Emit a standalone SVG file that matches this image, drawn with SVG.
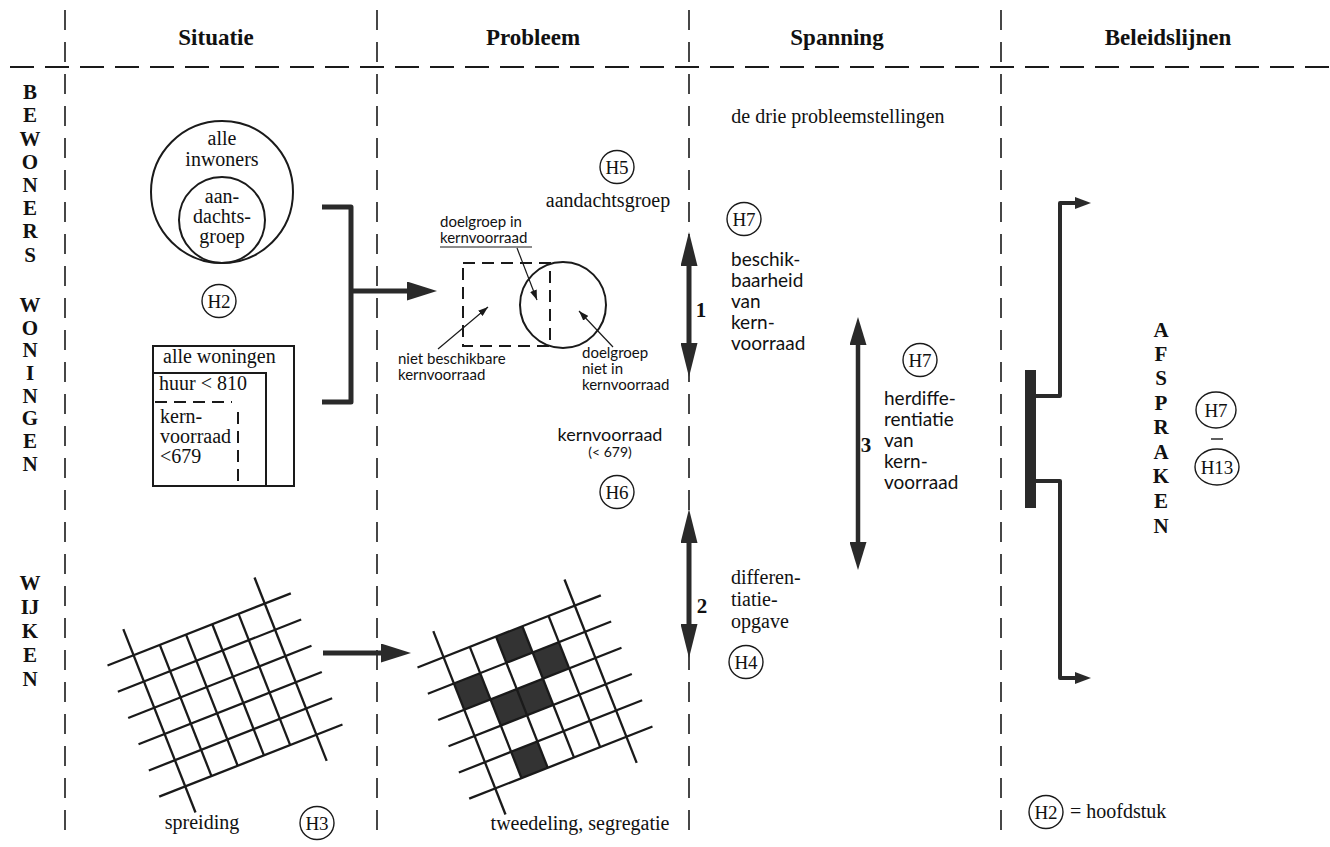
<svg xmlns="http://www.w3.org/2000/svg" xmlns:xlink="http://www.w3.org/1999/xlink" width="1330" height="847" viewBox="0 0 1330 847">
<style>
.bg{fill:#ffffff}
.vdash{stroke:#1a1a1a;stroke-width:1.6;stroke-dasharray:20 12;fill:none}
.hdash{stroke:#1a1a1a;stroke-width:2.2;stroke-dasharray:24 11;fill:none}
.hdr{font-family:"Liberation Serif","Times New Roman",serif;font-weight:bold;font-size:23px;fill:#111;text-anchor:middle}
.let{font-family:"Liberation Serif","Times New Roman",serif;font-weight:bold;font-size:21px;fill:#111;text-anchor:middle}
.t{font-family:"Liberation Serif","Times New Roman",serif;font-size:20px;fill:#111}
.tc{font-family:"Liberation Serif","Times New Roman",serif;font-size:20px;fill:#111;text-anchor:middle}
.o{font-family:"Lato","Open Sans",sans-serif;font-size:19px;fill:#111}
.oc{font-family:"Lato","Open Sans",sans-serif;font-size:18px;fill:#111;text-anchor:middle}
.os{font-family:"Lato","Open Sans",sans-serif;font-size:15px;fill:#111}
.num{font-family:"Liberation Serif","Times New Roman",serif;font-weight:bold;font-size:21px;fill:#111;text-anchor:middle}
.hc{fill:none;stroke:#1a1a1a;stroke-width:1.4}
.ht{font-family:"Liberation Serif","Times New Roman",serif;font-size:19px;fill:#111;text-anchor:middle}
.ln{fill:none;stroke:#1a1a1a;stroke-width:2}
.dl{fill:none;stroke:#1a1a1a;stroke-width:2;stroke-dasharray:12 7}
.thick{fill:none;stroke:#2a2a2a;stroke-width:5;stroke-linejoin:round}
.mid{fill:none;stroke:#2a2a2a;stroke-width:4;stroke-linejoin:round}
.thin{fill:none;stroke:#1a1a1a;stroke-width:1.2}
.gl{stroke:#1a1a1a;stroke-width:2.3}
.cell{fill:#333}
</style>
<defs>
<marker id="hb" viewBox="0 0 34 17" refX="0" refY="8.5" markerWidth="34" markerHeight="17" markerUnits="userSpaceOnUse" orient="auto-start-reverse"><path d="M0,0 L34,8.5 L0,17 z" fill="#2a2a2a"/></marker>
<marker id="hb3" viewBox="0 0 28 17" refX="0" refY="8.5" markerWidth="28" markerHeight="17" markerUnits="userSpaceOnUse" orient="auto-start-reverse"><path d="M0,0 L28,8.5 L0,17 z" fill="#2a2a2a"/></marker>
<marker id="hh" viewBox="0 0 30 19" refX="0" refY="9.5" markerWidth="30" markerHeight="19" markerUnits="userSpaceOnUse" orient="auto"><path d="M0,0 L30,9.5 L0,19 z" fill="#2a2a2a"/></marker>
<marker id="hm" viewBox="0 0 16 12" refX="0" refY="6" markerWidth="16" markerHeight="12" markerUnits="userSpaceOnUse" orient="auto"><path d="M0,0 L16,6 L0,12 z" fill="#2a2a2a"/></marker>
<marker id="ht" viewBox="0 0 10 7" refX="10" refY="3.5" markerWidth="10" markerHeight="7" markerUnits="userSpaceOnUse" orient="auto"><path d="M0,0 L10,3.5 L0,7 z" fill="#1a1a1a"/></marker>
<g id="grid">
<line class="gl" x1="-98.5" y1="-70.5" x2="98.5" y2="-70.5"/>
<line class="gl" x1="-98.5" y1="-42.3" x2="98.5" y2="-42.3"/>
<line class="gl" x1="-98.5" y1="-14.1" x2="98.5" y2="-14.1"/>
<line class="gl" x1="-98.5" y1="14.1" x2="98.5" y2="14.1"/>
<line class="gl" x1="-98.5" y1="42.3" x2="98.5" y2="42.3"/>
<line class="gl" x1="-98.5" y1="70.5" x2="98.5" y2="70.5"/>
<line class="gl" x1="-70.5" y1="-98.5" x2="-70.5" y2="98.5"/>
<line class="gl" x1="-42.3" y1="-70.5" x2="-42.3" y2="70.5"/>
<line class="gl" x1="-14.1" y1="-70.5" x2="-14.1" y2="70.5"/>
<line class="gl" x1="14.1" y1="-70.5" x2="14.1" y2="70.5"/>
<line class="gl" x1="42.3" y1="-70.5" x2="42.3" y2="70.5"/>
<line class="gl" x1="70.5" y1="-98.5" x2="70.5" y2="98.5"/>
</g>
</defs>
<rect class="bg" x="0" y="0" width="1330" height="847"/>

<g id="frame">
<line class="vdash" x1="65" y1="10" x2="65" y2="842"/>
<line class="vdash" x1="377" y1="10" x2="377" y2="842"/>
<line class="vdash" x1="689" y1="10" x2="689" y2="842"/>
<line class="vdash" x1="1001" y1="10" x2="1001" y2="842"/>
<line class="hdash" x1="10" y1="67" x2="1330" y2="67"/>
</g>

<g id="headers">
<text class="hdr" x="216" y="45">Situatie</text>
<text class="hdr" x="533" y="45">Probleem</text>
<text class="hdr" x="837" y="45">Spanning</text>
<text class="hdr" x="1168" y="45">Beleidslijnen</text>
</g>

<g id="row-labels">
<text class="let" x="30" y="99">B</text>
<text class="let" x="30" y="122">E</text>
<text class="let" x="30" y="146">W</text>
<text class="let" x="30" y="169">O</text>
<text class="let" x="30" y="192">N</text>
<text class="let" x="30" y="215">E</text>
<text class="let" x="30" y="238">R</text>
<text class="let" x="30" y="262">S</text>
<text class="let" x="30" y="312">W</text>
<text class="let" x="30" y="335">O</text>
<text class="let" x="30" y="357">N</text>
<text class="let" x="30" y="380">I</text>
<text class="let" x="30" y="403">N</text>
<text class="let" x="30" y="425">G</text>
<text class="let" x="30" y="448">E</text>
<text class="let" x="30" y="471">N</text>
<text class="let" x="30" y="590">W</text>
<text class="let" x="30" y="614">IJ</text>
<text class="let" x="30" y="638">K</text>
<text class="let" x="30" y="662">E</text>
<text class="let" x="30" y="686">N</text>
</g>

<g id="inwoners">
<circle class="ln" cx="222" cy="192" r="71"/>
<circle class="ln" cx="222" cy="220" r="43"/>
<text class="tc" x="222" y="145">alle</text>
<text class="tc" x="222" y="166">inwoners</text>
<text class="tc" x="222" y="203">aan-</text>
<text class="tc" x="222" y="223">dachts-</text>
<text class="tc" x="222" y="243">groep</text>
</g>

<g id="h2-situatie">
<ellipse class="hc" cx="219" cy="301" rx="17" ry="16.5"/>
<text class="ht" x="219" y="308">H2</text>
</g>

<g id="woningen">
<rect class="ln" x="153" y="346" width="141" height="140"/>
<rect class="ln" x="153" y="373" width="113" height="113"/>
<line class="dl" x1="155" y1="402" x2="232" y2="402"/>
<line class="dl" x1="238" y1="412" x2="238" y2="486"/>
<text class="t" x="163" y="363">alle woningen</text>
<text class="t" x="159" y="390">huur &lt; 810</text>
<text class="t" x="160" y="423">kern-</text>
<text class="t" x="160" y="443">voorraad</text>
<text class="t" x="160" y="463">&lt;679</text>
</g>

<g id="grid-situatie">
<use xlink:href="#grid" href="#grid" transform="translate(225,695) rotate(-21.5)"/>
<text class="tc" x="202" y="829">spreiding</text>
<ellipse class="hc" cx="317" cy="823" rx="17" ry="16.5"/>
<text class="ht" x="317" y="830">H3</text>
</g>

<g id="aandachtsgroep">
<ellipse class="hc" cx="617" cy="167" rx="17" ry="16.5"/>
<text class="ht" x="617" y="174">H5</text>
<text class="tc" x="608" y="207">aandachtsgroep</text>
</g>

<g id="venn">
<rect class="dl" x="463" y="263" width="87" height="83"/>
<circle class="ln" cx="563" cy="305" r="43"/>
<text class="os" x="440" y="227">doelgroep in</text>
<text class="os" x="440" y="243">kernvoorraad</text>
<line class="thin" x1="440" y1="247" x2="532" y2="247"/>
<text class="os" x="398" y="364">niet beschikbare</text>
<text class="os" x="398" y="380">kernvoorraad</text>
<text class="os" x="582" y="358">doelgroep</text>
<text class="os" x="582" y="374">niet in</text>
<text class="os" x="582" y="390">kernvoorraad</text>
</g>

<g id="kernvoorraad">
<text class="oc" x="610" y="441">kernvoorraad</text>
<text class="oc" x="610" y="457" style="font-size:14px">(&lt; 679)</text>
<ellipse class="hc" cx="617" cy="492" rx="17" ry="16.5"/>
<text class="ht" x="617" y="499">H6</text>
</g>

<g id="grid-probleem">
<g transform="translate(535,697) rotate(-21.5)">
<rect class="cell" x="-14.1" y="-70.5" width="28.2" height="28.2"/>
<rect class="cell" x="14.1" y="-42.3" width="28.2" height="28.2"/>
<rect class="cell" x="-70.5" y="-42.3" width="28.2" height="28.2"/>
<rect class="cell" x="-42.3" y="-14.1" width="56.4" height="28.2"/>
<rect class="cell" x="-42.3" y="42.3" width="28.2" height="28.2"/>
</g>
<use xlink:href="#grid" href="#grid" transform="translate(535,697) rotate(-21.5)"/>
<text class="tc" x="580" y="830">tweedeling, segregatie</text>
</g>

<g id="spanning-top">
<text class="tc" x="838" y="123">de drie probleemstellingen</text>
</g>

<g id="spanning-1">
<ellipse class="hc" cx="744" cy="219" rx="17" ry="16.5"/>
<text class="ht" x="744" y="226">H7</text>
<text class="num" x="701" y="317">1</text>
<text class="o" x="731" y="266">beschik-</text>
<text class="o" x="731" y="287">baarheid</text>
<text class="o" x="731" y="308">van</text>
<text class="o" x="731" y="329">kern-</text>
<text class="o" x="731" y="350">voorraad</text>
</g>

<g id="spanning-2">
<text class="num" x="702" y="613">2</text>
<text class="t" x="731" y="584">differen-</text>
<text class="t" x="731" y="606">tiatie-</text>
<text class="t" x="731" y="628">opgave</text>
<ellipse class="hc" cx="746" cy="662" rx="17" ry="16.5"/>
<text class="ht" x="746" y="669">H4</text>
</g>

<g id="spanning-3">
<text class="num" x="866" y="452">3</text>
<ellipse class="hc" cx="920" cy="360" rx="17" ry="16.5"/>
<text class="ht" x="920" y="367">H7</text>
<text class="o" x="884" y="405">herdiffe-</text>
<text class="o" x="884" y="426">rentiatie</text>
<text class="o" x="884" y="447">van</text>
<text class="o" x="884" y="468">kern-</text>
<text class="o" x="884" y="489">voorraad</text>
</g>

<g id="afspraken">
<text class="let" x="1161" y="337">A</text>
<text class="let" x="1161" y="361">F</text>
<text class="let" x="1161" y="385">S</text>
<text class="let" x="1161" y="410">P</text>
<text class="let" x="1161" y="434">R</text>
<text class="let" x="1161" y="459">A</text>
<text class="let" x="1161" y="483">K</text>
<text class="let" x="1161" y="508">E</text>
<text class="let" x="1161" y="533">N</text>
<ellipse class="hc" cx="1216" cy="410" rx="20" ry="18"/>
<text class="ht" x="1216" y="417">H7</text>
<line x1="1211" y1="439" x2="1223" y2="439" stroke="#1a1a1a" stroke-width="1.4"/>
<ellipse class="hc" cx="1217" cy="467" rx="22" ry="18"/>
<text class="ht" x="1217" y="474">H13</text>
</g>

<g id="legend">
<ellipse class="hc" cx="1046" cy="812" rx="17" ry="16.5"/>
<text class="ht" x="1046" y="819">H2</text>
<text class="t" x="1070" y="818">= hoofdstuk</text>
</g>

<g id="connectors">
<path class="thick" d="M322,207 H351 V402 H322"/>
<line class="thick" x1="351" y1="291" x2="407" y2="291" marker-end="url(#hh)"/>
<line class="thick" x1="323" y1="653" x2="381" y2="653" marker-end="url(#hh)"/>
<line class="thick" x1="689" y1="266" x2="689" y2="343" marker-start="url(#hb)" marker-end="url(#hb)"/>
<line class="thick" x1="689" y1="543" x2="689" y2="624" marker-start="url(#hb)" marker-end="url(#hb)"/>
<line class="thick" x1="858" y1="345" x2="858" y2="542" marker-start="url(#hb3)" marker-end="url(#hb3)" style="stroke-width:4.5"/>
<line class="thin" x1="517" y1="248" x2="537" y2="300" marker-end="url(#ht)"/>
<line class="thin" x1="438" y1="349" x2="488" y2="307" marker-end="url(#ht)"/>
<line class="thin" x1="613" y1="347" x2="579" y2="311" marker-end="url(#ht)"/>
<rect x="1025" y="370" width="11" height="138" fill="#2a2a2a"/>
<path class="mid" d="M1036,396 H1060 V203 H1075" marker-end="url(#hm)"/>
<path class="mid" d="M1036,481 H1060 V678 H1075" marker-end="url(#hm)"/>
</g>
</svg>
